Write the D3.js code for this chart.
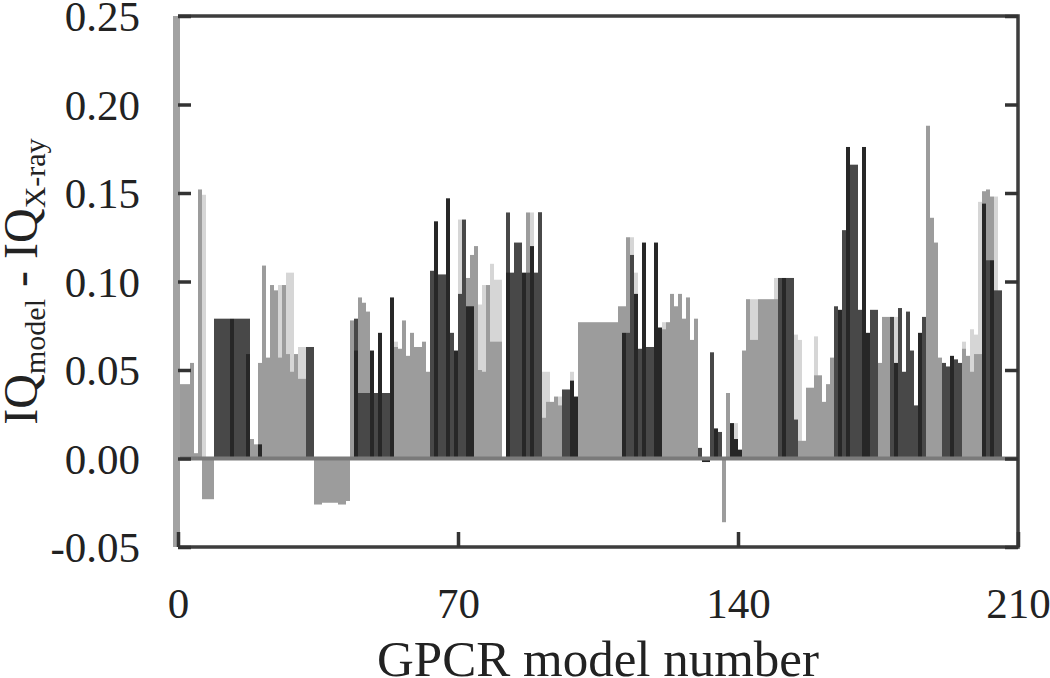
<!DOCTYPE html>
<html>
<head>
<meta charset="utf-8">
<script src="https://cdn.jsdelivr.net/npm/d3@7.9.0/dist/d3.min.js"></script>
<style>
  html, body { margin: 0; padding: 0; background: #fff; }
  svg { display: block; }
</style>
</head>
<body>
<div id="chart"></div>
<script>
// IQ(model) - IQ(X-ray) for each GPCR model (10 per row)
const iqFront = [
  0.042, 0.042, 0.042, 0.054, 0.003, 0.152, -0.023, -0.023, -0.023, 0.079,
  0.079, 0.079, 0.079, 0.079, 0.079, 0.079, 0.079, 0.059, 0.011, 0.008,
  0.008, 0.109, 0.057, 0.098, 0.095, 0.057, 0.098, 0.059, 0.049, 0.059,
  0.045, 0.045, 0.063, 0.063, -0.026, -0.026, -0.025, -0.025, -0.025, -0.025,
  -0.026, -0.026, -0.024, 0.078, 0.061, 0.037, 0.037, 0.037, 0.061, 0.037,
  0.071, 0.037, 0.037, 0.091, 0.063, 0.062, 0.078, 0.058, 0.071, 0.063,
  0.063, 0.066, 0.049, 0.106, 0.134, 0.104, 0.104, 0.147, 0.071, 0.061,
  0.093, 0.135, 0.086, 0.086, 0.120, 0.050, 0.049, 0.098, 0.066, 0.066,
  0.066, 0.000, 0.105, 0.105, 0.122, 0.122, 0.105, 0.105, 0.120, 0.105,
  0.139, 0.023, 0.032, 0.032, 0.035, 0.030, 0.039, 0.039, 0.044, 0.035,
  0.077, 0.077, 0.077, 0.077, 0.077, 0.077, 0.077, 0.077, 0.077, 0.077,
  0.086, 0.071, 0.071, 0.115, 0.093, 0.062, 0.122, 0.063, 0.063, 0.122,
  0.074, 0.073, 0.077, 0.093, 0.086, 0.093, 0.079, 0.091, 0.067, 0.079,
  0.006, -0.002, -0.002, 0.060, 0.017, 0.015, -0.036, 0.037, 0.020, 0.011,
  0.005, 0.061, 0.090, 0.067, 0.067, 0.090, 0.090, 0.090, 0.090, 0.090,
  0.102, 0.102, 0.102, 0.102, 0.022, 0.010, 0.010, 0.040, 0.040, 0.047,
  0.047, 0.032, 0.042, 0.057, 0.086, 0.084, 0.129, 0.176, 0.166, 0.166,
  0.084, 0.176, 0.071, 0.084, 0.084, 0.054, 0.080, 0.080, 0.080, 0.054,
  0.085, 0.049, 0.083, 0.061, 0.030, 0.071, 0.080, 0.188, 0.136, 0.122,
  0.057, 0.054, 0.052, 0.058, 0.056, 0.054, 0.062, 0.058, 0.049, 0.059,
  0.059, 0.144, 0.112, 0.112, 0.095, 0.095, 0.000, 0.000, 0.000, 0.000
];

// shade of each front bar, same rows as above: g = grey, d = dark, k = darkest
const toneRows = [
  "gggggggggd", "dddkdddkgg", "kggggggggg", "ggddgggggg", "ggggkdddkd",
  "kddkgggggg", "gggdkddkdk", "ddkkgggggg", "ggkdddkdkd", "dgggggddkk",
  "gggggggggg", "gkddkdkddk", "kggggggggg", "dkkdkdggkk", "kggggggggg",
  "dkdddggggg", "ggggdkdkdd", "dkkddgggdk", "dddddkdggg", "gddkddgggg",
  "gkdkddgggg"
];

// partly hidden bars drawn behind the front ones: [model, value, shade]
const iqBack = [
  [6, 0.149, "p"], [17, 0.079, "d"], [20, 0.054, "g"], [25, 0.098, "p"],
  [27, 0.105, "p"], [28, 0.105, "p"], [30, 0.063, "p"], [31, 0.063, "p"],
  [44, 0.079, "d"], [45, 0.091, "g"], [46, 0.088, "g"], [47, 0.083, "g"],
  [54, 0.066, "p"], [63, 0.106, "d"], [64, 0.106, "d"], [70, 0.135, "p"],
  [72, 0.102, "g"], [73, 0.115, "g"], [75, 0.087, "p"], [76, 0.098, "p"],
  [78, 0.110, "p"], [79, 0.101, "p"], [80, 0.101, "p"], [82, 0.139, "d"],
  [87, 0.139, "g"], [88, 0.139, "p"], [90, 0.139, "d"], [91, 0.049, "p"],
  [92, 0.049, "p"], [95, 0.035, "p"], [98, 0.049, "p"], [111, 0.086, "g"],
  [112, 0.125, "g"], [113, 0.125, "p"], [114, 0.105, "p"], [121, 0.077, "p"],
  [139, 0.020, "p"], [143, 0.090, "p"], [144, 0.090, "p"], [149, 0.102, "p"],
  [154, 0.070, "p"], [155, 0.067, "p"], [159, 0.069, "p"], [179, 0.080, "p"],
  [196, 0.066, "p"], [198, 0.073, "p"], [199, 0.070, "p"], [200, 0.145, "p"],
  [201, 0.151, "g"], [202, 0.152, "g"], [203, 0.148, "g"], [204, 0.148, "p"]
];

const yTicks = [-0.05, 0, 0.05, 0.10, 0.15, 0.20, 0.25];
const xTicks = [0, 70, 140, 210];

const width = 1050;
const height = 678;
const plot = { left: 178, right: 1018, top: 16, bottom: 547 };
const shades = { p: "#d6d6d6", g: "#9c9c9c", d: "#484848", k: "#272727" };
const font = "'Liberation Serif', 'Times New Roman', serif";

const svg = d3.select("#chart").append("svg")
  .attr("width", width)
  .attr("height", height);

const x = d3.scaleLinear().domain([0, 210]).range([plot.left, plot.right]);
const y = d3.scaleLinear().domain([-0.05, 0.25]).range([plot.bottom, plot.top]);

const tones = toneRows.join("");
const frontData = iqFront.map((v, i) => ({ model: i, value: v, tone: tones[i] || "g" }));
const backData = iqBack.map(d => ({ model: d[0], value: d[1], tone: d[2] }));

function drawBars(data, cls) {
  svg.append("g").attr("class", cls)
    .selectAll("rect")
    .data(data.filter(d => d.value !== 0))
    .join("rect")
    .attr("x", d => x(d.model))
    .attr("width", d => x(d.model + 1) - x(d.model))
    .attr("y", d => y(Math.max(0, d.value)))
    .attr("height", d => Math.abs(y(d.value) - y(0)))
    .attr("fill", d => shades[d.tone]);
}

drawBars(backData, "back");
drawBars(frontData, "front");

// zero line
svg.append("line")
  .attr("x1", plot.left).attr("x2", plot.right)
  .attr("y1", y(0)).attr("y2", y(0))
  .attr("stroke", "#7a7a7a")
  .attr("stroke-width", 4);

// frame: grey left spine, dark elsewhere
svg.append("rect")
  .attr("x", plot.left - 5).attr("y", plot.top)
  .attr("width", 7).attr("height", plot.bottom - plot.top)
  .attr("fill", "#a2a2a2");
svg.append("path")
  .attr("d", `M${plot.left},${plot.top}H${plot.right}V${plot.bottom}H${plot.left}`)
  .attr("fill", "none")
  .attr("stroke", "#3d3d3d")
  .attr("stroke-width", 3.5);

// axes with inside ticks
const fmt = d => d3.format(".2f")(d).replace("\u2212", "-");

const yAxis = svg.append("g")
  .attr("transform", `translate(${plot.left},0)`)
  .call(d3.axisLeft(y).tickValues(yTicks).tickFormat(fmt).tickSize(-13).tickPadding(38));
yAxis.select(".domain").remove();
yAxis.selectAll("line").attr("stroke", "#333").attr("stroke-width", 3.5);
yAxis.selectAll("text")
  .attr("fill", "#222")
  .attr("dy", "0.34em")
  .style("font-family", font)
  .style("font-size", "43px");

const yAxisRight = svg.append("g")
  .attr("transform", `translate(${plot.right},0)`)
  .call(d3.axisRight(y).tickValues(yTicks).tickFormat("").tickSize(-13));
yAxisRight.select(".domain").remove();
yAxisRight.selectAll("line").attr("stroke", "#333").attr("stroke-width", 3.5);

const xAxis = svg.append("g")
  .attr("transform", `translate(0,${plot.bottom})`)
  .call(d3.axisBottom(x).tickValues(xTicks).tickFormat(d3.format("d")).tickSize(-15).tickPadding(40));
xAxis.select(".domain").remove();
xAxis.selectAll("line").attr("stroke", "#333").attr("stroke-width", 3.5);
xAxis.selectAll("text")
  .attr("fill", "#222")
  .style("font-family", font)
  .style("font-size", "43px");

// axis titles
svg.append("text")
  .attr("x", 598)
  .attr("y", 676)
  .attr("text-anchor", "middle")
  .attr("fill", "#222")
  .style("font-family", font)
  .style("font-size", "51px")
  .text("GPCR model number");

const yTitle = svg.append("text")
  .attr("transform", `translate(37,${(plot.top + plot.bottom) / 2}) rotate(-90)`)
  .attr("text-anchor", "middle")
  .attr("fill", "#222")
  .style("font-family", font)
  .style("font-size", "48px");
yTitle.append("tspan").text("IQ");
yTitle.append("tspan").attr("dy", 8).style("font-size", "30px").text("model");
yTitle.append("tspan").attr("dy", -8).text(" - IQ");
yTitle.append("tspan").attr("dy", 8).style("font-size", "30px").text("X-ray");
</script>
</body>
</html>
